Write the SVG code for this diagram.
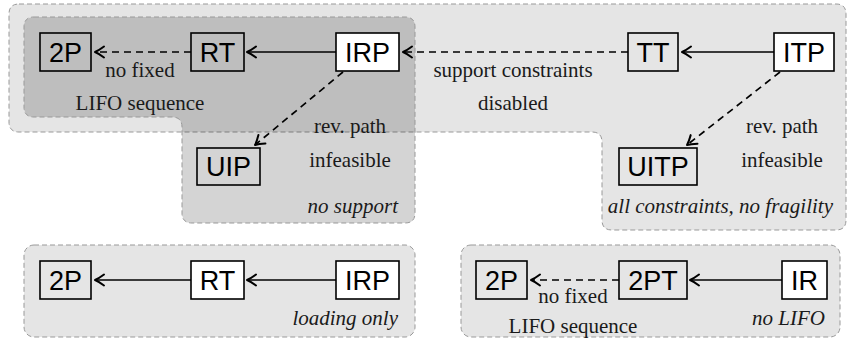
<svg xmlns="http://www.w3.org/2000/svg" width="848" height="343" viewBox="0 0 848 343">
  <style>
    .region { stroke: #999999; stroke-width: 1; stroke-dasharray: 5 3; }
    .light { fill: #000000; fill-opacity: 0.1; }
    .dark { fill: #000000; fill-opacity: 0.17; }
    .box { fill: none; stroke: #000000; stroke-width: 1.6; }
    .box.white { fill: #ffffff; }
    .edge { fill: none; stroke: #000000; stroke-width: 1.7; marker-end: url(#head); }
    .dashed { stroke-dasharray: 7 5; }
  </style>
  <defs>
    <marker id="head" markerUnits="userSpaceOnUse" viewBox="-12 -7 14 14" refX="0" refY="0" markerWidth="14" markerHeight="14" orient="auto">
      <path d="M-9,-5.5 Q-3.5,-1.4 0,0 Q-3.5,1.4 -9,5.5" fill="none" stroke="#000000" stroke-width="2" stroke-linecap="round" stroke-linejoin="round"/>
    </marker>
  </defs>

  <!-- grouping regions -->
  <g id="regions">
    <path id="all-constraints" class="region light" d="M19,4 H836 Q846,4 846,14 V220 Q846,230 836,230 H612 Q602,230 602,220 V142 Q602,132 592,132 H19 Q9,132 9,122 V14 Q9,4 19,4 Z"/>
    <path id="no-support" class="region dark" d="M34,17 H405 Q415,17 415,27 V213 Q415,223 405,223 H192 Q182,223 182,213 V127 Q182,117 172,117 H34 Q24,117 24,107 V27 Q24,17 34,17 Z"/>
    <rect id="loading-only" class="region light" x="24" y="245" width="391" height="92" rx="10"/>
    <rect id="no-lifo" class="region light" x="461" y="245" width="379" height="92" rx="10"/>
  </g>

  <!-- connectors -->
  <g id="connectors">
    <line class="edge dashed" x1="191" y1="52" x2="95" y2="52"/>
    <line class="edge" x1="336" y1="52" x2="247" y2="52"/>
    <line class="edge dashed" x1="628" y1="52" x2="403" y2="52"/>
    <line class="edge" x1="774" y1="52" x2="682" y2="52"/>
    <line class="edge dashed" x1="343" y1="72" x2="255" y2="145"/>
    <line class="edge dashed" x1="780" y1="72" x2="687" y2="145"/>
    <line class="edge" x1="191" y1="280" x2="95" y2="280"/>
    <line class="edge" x1="336" y1="280" x2="247" y2="280"/>
    <line class="edge dashed" x1="619" y1="280" x2="531" y2="280"/>
    <line class="edge" x1="782" y1="280" x2="690" y2="280"/>
  </g>

  <!-- nodes -->
  <g id="nodes" font-family="'Liberation Sans', Arial, sans-serif" font-size="27" text-anchor="middle" fill="#000000">
    <g id="n-2P-top"><rect class="box" x="40" y="33" width="51" height="38"/><text x="65.5" y="62">2P</text></g>
    <g id="n-RT-top"><rect class="box" x="191" y="33" width="53" height="38"/><text x="217.5" y="62">RT</text></g>
    <g id="n-IRP-top"><rect class="box white" x="336" y="33" width="63" height="38"/><text x="367.5" y="62">IRP</text></g>
    <g id="n-TT"><rect class="box" x="628" y="33" width="50" height="38"/><text x="653" y="62">TT</text></g>
    <g id="n-ITP"><rect class="box white" x="774" y="33" width="60" height="38"/><text x="804" y="62">ITP</text></g>
    <g id="n-UIP"><rect class="box" x="197" y="148" width="63" height="37"/><text x="228.5" y="176">UIP</text></g>
    <g id="n-UITP"><rect class="box" x="619" y="148" width="78" height="37"/><text x="658" y="176">UITP</text></g>

    <g id="n-2P-load"><rect class="box" x="40" y="261" width="51" height="38"/><text x="65.5" y="290">2P</text></g>
    <g id="n-RT-load"><rect class="box white" x="191" y="261" width="53" height="38"/><text x="217.5" y="290">RT</text></g>
    <g id="n-IRP-load"><rect class="box white" x="336" y="261" width="63" height="38"/><text x="367.5" y="290">IRP</text></g>

    <g id="n-2P-nolifo"><rect class="box" x="476" y="261" width="51" height="38"/><text x="501.5" y="290">2P</text></g>
    <g id="n-2PT"><rect class="box" x="619" y="261" width="68" height="38"/><text x="653" y="290">2PT</text></g>
    <g id="n-IR"><rect class="box white" x="782" y="261" width="45" height="38"/><text x="804.5" y="290">IR</text></g>
  </g>

  <!-- edge labels -->
  <g id="labels" font-family="'Liberation Serif', 'Times New Roman', serif" font-size="21" text-anchor="middle" fill="#1a1a1a">
    <text x="140" y="77">no fixed</text>
    <text x="140" y="110">LIFO sequence</text>
    <text x="513" y="77">support constraints</text>
    <text x="513" y="110">disabled</text>
    <text x="350" y="133">rev. path</text>
    <text x="350" y="167">infeasible</text>
    <text x="782" y="133">rev. path</text>
    <text x="782" y="167">infeasible</text>
    <text x="573" y="303">no fixed</text>
    <text x="573" y="333">LIFO sequence</text>
  </g>

  <!-- region tags -->
  <g id="tags" font-family="'Liberation Serif', 'Times New Roman', serif" font-size="21" font-style="italic" text-anchor="end" fill="#1a1a1a">
    <text x="398" y="213">no support</text>
    <text x="833" y="213">all constraints, no fragility</text>
    <text x="398" y="325">loading only</text>
    <text x="825" y="325">no LIFO</text>
  </g>
</svg>
